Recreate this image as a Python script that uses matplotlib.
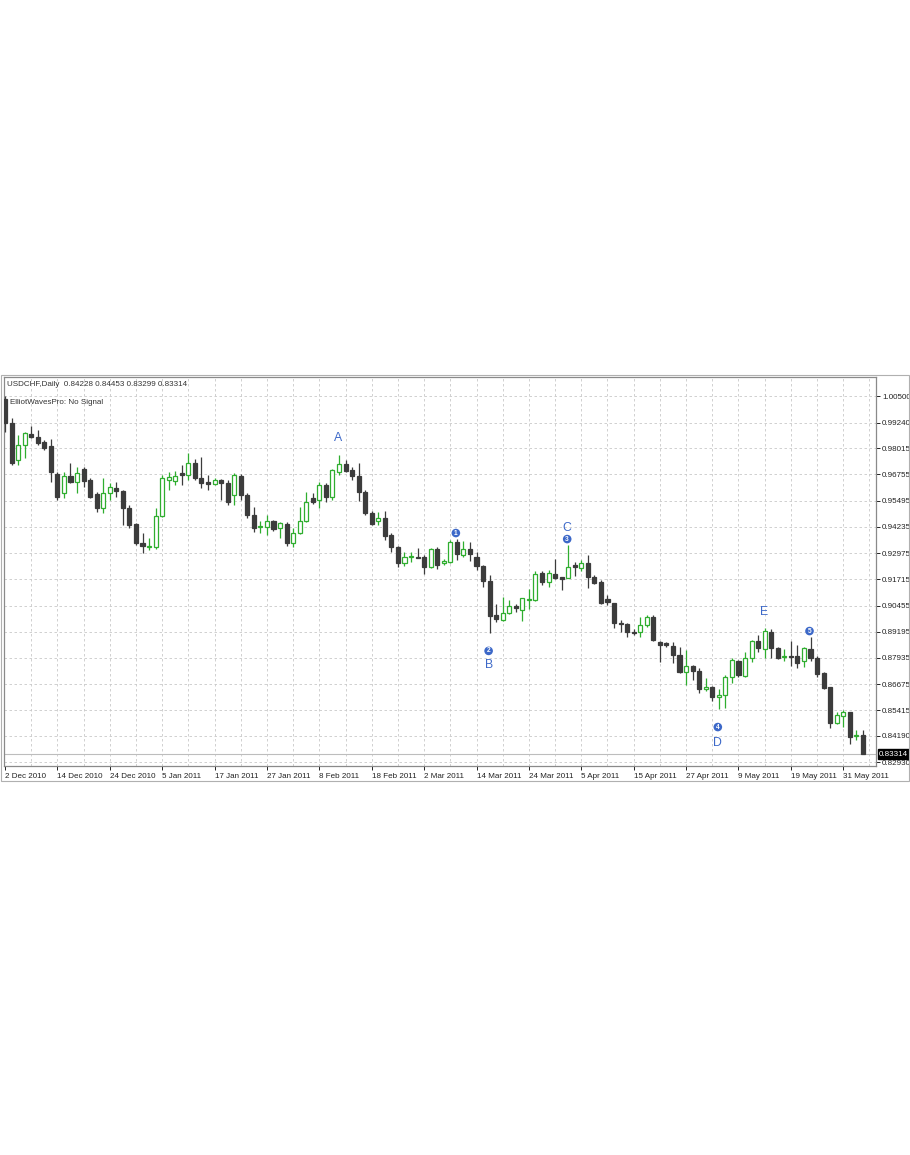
import numpy as np
import pandas as pd
import matplotlib
matplotlib.use("Agg")
import matplotlib.pyplot as plt
from matplotlib.patches import Rectangle

# USDCHF daily candles, 2 Dec 2010 .. 3 Jun 2011
opens = [1.0038, 0.9923, 0.9745, 0.9817, 0.9870, 0.9855, 0.9831, 0.9812, 0.9678, 0.9586,
         0.9668, 0.9639, 0.9702, 0.9649, 0.9581, 0.9514, 0.9586, 0.9610, 0.9596, 0.9514,
         0.9437, 0.9346, 0.9327, 0.9327, 0.9476, 0.9649, 0.9644, 0.9682, 0.9673, 0.9730,
         0.9658, 0.9639, 0.9630, 0.9649, 0.9634, 0.9577, 0.9668, 0.9577, 0.9481, 0.9423,
         0.9423, 0.9452, 0.9418, 0.9437, 0.9346, 0.9394, 0.9452, 0.9562, 0.9553, 0.9625,
         0.9567, 0.9687, 0.9726, 0.9697, 0.9668, 0.9591, 0.9490, 0.9452, 0.9466, 0.9385,
         0.9327, 0.9250, 0.9279, 0.9280, 0.9279, 0.9231, 0.9317, 0.9250, 0.9255, 0.9351,
         0.9288, 0.9317, 0.9279, 0.9236, 0.9163, 0.9000, 0.8976, 0.9010, 0.9043, 0.9024,
         0.9072, 0.9072, 0.9202, 0.9159, 0.9197, 0.9183, 0.9178, 0.9240, 0.9226, 0.9250,
         0.9183, 0.9159, 0.9077, 0.9058, 0.8962, 0.8957, 0.8918, 0.8918, 0.8952, 0.8990,
         0.8870, 0.8866, 0.8851, 0.8808, 0.8726, 0.8755, 0.8731, 0.8644, 0.8654, 0.8606,
         0.8616, 0.8702, 0.8779, 0.8707, 0.8793, 0.8875, 0.8837, 0.8918, 0.8842, 0.8798,
         0.8803, 0.8803, 0.8779, 0.8837, 0.8793, 0.8721, 0.8654, 0.8481, 0.8515, 0.8534,
         0.8419, 0.84228]
highs = [1.0053, 0.9947, 0.9865, 0.9879, 0.9908, 0.9889, 0.9841, 0.9846, 0.9687, 0.9687,
         0.9730, 0.9711, 0.9711, 0.9658, 0.9591, 0.9658, 0.9634, 0.9639, 0.9601, 0.9529,
         0.9442, 0.9394, 0.9370, 0.9514, 0.9673, 0.9687, 0.9692, 0.9721, 0.9778, 0.9750,
         0.9759, 0.9673, 0.9658, 0.9654, 0.9649, 0.9682, 0.9678, 0.9586, 0.9519, 0.9452,
         0.9481, 0.9457, 0.9447, 0.9447, 0.9418, 0.9519, 0.9591, 0.9586, 0.9639, 0.9634,
         0.9702, 0.9769, 0.9745, 0.9711, 0.9730, 0.9601, 0.9500, 0.9495, 0.9500, 0.9394,
         0.9332, 0.9303, 0.9303, 0.9322, 0.9288, 0.9322, 0.9327, 0.9269, 0.9360, 0.9365,
         0.9356, 0.9351, 0.9303, 0.9240, 0.9192, 0.9053, 0.9087, 0.9072, 0.9053, 0.9082,
         0.9125, 0.9211, 0.9211, 0.9216, 0.9269, 0.9185, 0.9336, 0.9255, 0.9264, 0.9288,
         0.9192, 0.9168, 0.9096, 0.9060, 0.8976, 0.8962, 0.8933, 0.8990, 0.9000, 0.9000,
         0.8875, 0.8870, 0.8870, 0.8846, 0.8832, 0.8760, 0.8745, 0.8697, 0.8659, 0.8644,
         0.8712, 0.8793, 0.8784, 0.8822, 0.8880, 0.8904, 0.8938, 0.8933, 0.8846, 0.8837,
         0.8875, 0.8856, 0.8846, 0.8894, 0.8803, 0.8726, 0.8656, 0.8534, 0.8543, 0.8536,
         0.8447, 0.84453]
lows = [0.9879, 0.9721, 0.9721, 0.9755, 0.9851, 0.9817, 0.9793, 0.9639, 0.9553, 0.9562,
        0.9634, 0.9586, 0.9615, 0.9562, 0.9495, 0.9490, 0.9553, 0.9567, 0.9433, 0.9418,
        0.9336, 0.9298, 0.9312, 0.9317, 0.9471, 0.9601, 0.9625, 0.9625, 0.9649, 0.9649,
        0.9610, 0.9601, 0.9625, 0.9553, 0.9529, 0.9529, 0.9553, 0.9466, 0.9399, 0.9394,
        0.9385, 0.9404, 0.9370, 0.9332, 0.9327, 0.9389, 0.9447, 0.9533, 0.9514, 0.9543,
        0.9553, 0.9673, 0.9687, 0.9649, 0.9548, 0.9481, 0.9433, 0.9433, 0.9360, 0.9303,
        0.9231, 0.9236, 0.9255, 0.9274, 0.9197, 0.9226, 0.9221, 0.9240, 0.9250, 0.9264,
        0.9279, 0.9260, 0.9216, 0.9135, 0.8914, 0.8966, 0.8971, 0.9005, 0.9014, 0.8971,
        0.9029, 0.9067, 0.9144, 0.9135, 0.9173, 0.9120, 0.9176, 0.9188, 0.9211, 0.9130,
        0.9149, 0.9053, 0.9048, 0.8938, 0.8918, 0.8894, 0.8904, 0.8894, 0.8942, 0.8875,
        0.8774, 0.8846, 0.8769, 0.8721, 0.8664, 0.8688, 0.8625, 0.8635, 0.8587, 0.8548,
        0.8553, 0.8673, 0.8702, 0.8702, 0.8774, 0.8822, 0.8793, 0.8793, 0.8789, 0.8779,
        0.8755, 0.8745, 0.8750, 0.8779, 0.8702, 0.8644, 0.8457, 0.8476, 0.8462, 0.8380,
        0.8399, 0.83299]
closes = [0.9923, 0.9730, 0.9817, 0.9875, 0.9855, 0.9827, 0.9803, 0.9687, 0.9567, 0.9668,
          0.9639, 0.9682, 0.9644, 0.9567, 0.9514, 0.9586, 0.9615, 0.9596, 0.9514, 0.9433,
          0.9346, 0.9332, 0.9332, 0.9476, 0.9658, 0.9663, 0.9668, 0.9673, 0.9730, 0.9658,
          0.9634, 0.9630, 0.9649, 0.9634, 0.9543, 0.9673, 0.9577, 0.9481, 0.9418, 0.9428,
          0.9452, 0.9413, 0.9442, 0.9346, 0.9394, 0.9452, 0.9543, 0.9543, 0.9625, 0.9567,
          0.9697, 0.9726, 0.9692, 0.9668, 0.9591, 0.9490, 0.9437, 0.9466, 0.9380, 0.9327,
          0.9250, 0.9279, 0.9284, 0.9276, 0.9231, 0.9317, 0.9240, 0.9260, 0.9351, 0.9293,
          0.9317, 0.9293, 0.9236, 0.9163, 0.8995, 0.8981, 0.9010, 0.9043, 0.9034, 0.9080,
          0.9077, 0.9197, 0.9159, 0.9202, 0.9178, 0.9173, 0.9231, 0.9231, 0.9250, 0.9183,
          0.9154, 0.9058, 0.9062, 0.8962, 0.8957, 0.8918, 0.8914, 0.8952, 0.8990, 0.8880,
          0.8856, 0.8856, 0.8808, 0.8726, 0.8755, 0.8731, 0.8644, 0.8654, 0.8606, 0.8616,
          0.8702, 0.8784, 0.8712, 0.8793, 0.8875, 0.8842, 0.8923, 0.8842, 0.8793, 0.8803,
          0.8798, 0.8769, 0.8842, 0.8793, 0.8716, 0.8649, 0.8481, 0.8519, 0.8534, 0.8414,
          0.8423, 0.83314]

price_ticks = [1.00500, 0.99240, 0.98015, 0.96755, 0.95495, 0.94235, 0.92975, 0.91715,
               0.90455, 0.89195, 0.87935, 0.86675, 0.85415, 0.84190, 0.82930]

# wave labels: (text, bar index, above/below)
wave_letters = [("A", 51, "up"), ("B", 74, "down"), ("C", 86, "up"), ("D", 109, "down"), ("E", 116, "up")]
wave_numbers = [("1", 69, "up"), ("2", 74, "down"), ("3", 86, "up"), ("4", 109, "down"), ("5", 123, "up")]

symbol = "USDCHF,Daily"
indicator = "ElliotWavesPro: No Signal"

dates = pd.bdate_range("2010-12-02", periods=len(opens))

W, H = 910, 1155
fig = plt.figure(figsize=(W / 100, H / 100), dpi=100)
fig.patch.set_facecolor("white")
plt.rcParams["font.family"] = ["Liberation Sans", "DejaVu Sans"]

x0, x1, y0, y1 = 4, 876, 377, 766
ax = fig.add_axes([x0 / W, 1 - y1 / H, (x1 - x0) / W, (y1 - y0) / H])
ax.set_facecolor("white")

GREEN = "#2fae2f"
DARK = "#3c3c3c"
BLUE = "#3c68c8"

n = len(opens)
idx = np.arange(n)
bw = 0.62
for i in idx:
    o, h, l, c = opens[i], highs[i], lows[i], closes[i]
    up = c >= o
    col = GREEN if up else DARK
    lo_b, hi_b = min(o, c), max(o, c)
    ax.plot([i, i], [hi_b, h], color=col, lw=0.9, zorder=3, solid_capstyle="butt")
    ax.plot([i, i], [l, lo_b], color=col, lw=0.9, zorder=3, solid_capstyle="butt")
    hgt = max(hi_b - lo_b, 0.00012)
    if up:
        ax.add_patch(Rectangle((i - bw / 2, lo_b), bw, hgt, fc="white", ec=GREEN, lw=0.9, zorder=4))
    else:
        ax.add_patch(Rectangle((i - bw / 2, lo_b), bw, hgt, fc=DARK, ec=DARK, lw=0.9, zorder=4))

ax.set_xlim(-0.15, 133.0)
ax.set_ylim(0.82744, 1.01437)

# grid
for gx in range(4, n + 1, 4):
    ax.axvline(gx, color="#c9c9c9", lw=0.6, ls=(0, (3, 3)), zorder=1)
for gy in price_ticks:
    ax.axhline(gy, color="#c9c9c9", lw=0.6, ls=(0, (3, 3)), zorder=1)

# bid line
ax.axhline(closes[-1], color="#bdbdbd", lw=0.8, zorder=2)

# axes
ax.yaxis.tick_right()
ax.set_yticks(price_ticks)
ax.set_yticklabels([f"{v:.5f}" for v in price_ticks])
xt = list(range(0, n, 8))
ax.set_xticks(xt)
ax.set_xticklabels([f"{dates[i].day} {dates[i].strftime('%b %Y')}" for i in xt], ha="left")
ax.tick_params(axis="both", labelsize=5.8, colors="#222222", length=3, width=0.7, pad=1.5)
ax.tick_params(axis="x", pad=2)
for s in ax.spines.values():
    s.set_color("#8a8a8a")
    s.set_linewidth(0.9)

# current price box
ax.annotate(f"{closes[-1]:.5f}", xy=(1.0, closes[-1]), xycoords=("axes fraction", "data"),
            xytext=(3, 0), textcoords="offset pixels", va="center", ha="left",
            fontsize=5.8, color="white",
            bbox=dict(boxstyle="square,pad=0.15", fc="black", ec="black"))

# wave annotations
let_off = {"A": 17, "B": -32, "C": 17, "D": -34, "E": 16}
for t, i, side in wave_letters:
    ref = highs[i] if side == "up" else lows[i]
    ax.annotate(t, (i, ref), xytext=(-1, let_off[t]), textcoords="offset pixels",
                ha="center", va="center", fontsize=8.8, color=BLUE, zorder=6)
num_off = {"1": 6, "2": -18, "3": 6, "4": -18, "5": 6}
for t, i, side in wave_numbers:
    ref = highs[i] if side == "up" else lows[i]
    ax.annotate(t, (i, ref), xytext=(-1, num_off[t]), textcoords="offset pixels",
                ha="center", va="center", fontsize=4.8, color="white", fontweight="bold", zorder=7,
                bbox=dict(boxstyle="circle,pad=0.12", fc=BLUE, ec="none"))

# header text
fig.text(7 / W, 1 - 384 / H, symbol + "  " + " ".join(f"{v:.5f}" for v in
         (opens[-1], highs[-1], lows[-1], closes[-1])),
         fontsize=5.8, color="#333333", va="center", ha="left")
fig.text(10 / W, 1 - 402 / H, indicator, fontsize=5.8, color="#333333", va="center", ha="left")

# window frame
fig.add_artist(Rectangle((1 / W, 1 - 781 / H), 908 / W, 406 / H, transform=fig.transFigure,
                         fill=False, ec="#b0b0b0", lw=0.8))

fig.savefig("out.png", dpi=100, facecolor="white")
